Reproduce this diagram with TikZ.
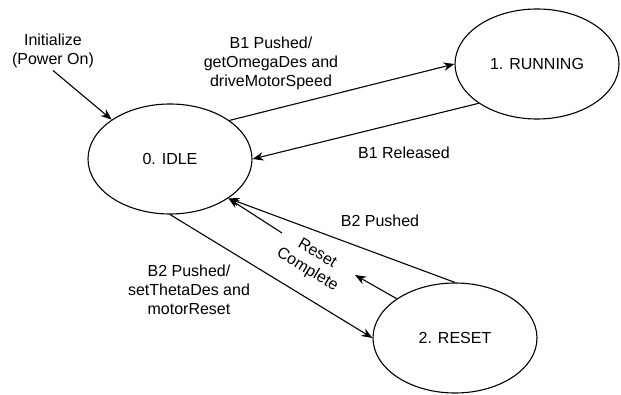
\documentclass[tikz,border=0pt]{standalone}
\usepackage{fontspec}
\setmainfont{Liberation Sans}
\usetikzlibrary{arrows.meta, shapes.geometric}
\tikzset{>={Stealth[length=11pt,width=8.5pt]}}
\tikzset{
  statenode/.style={draw, ellipse, minimum width=164pt, minimum height=110pt, inner sep=0pt},
  trans/.style={->},
  lbl/.style={align=center, inner sep=2pt}
}

\begin{document}
\begin{tikzpicture}[x=1pt, y=1pt, line width=1.1pt, font=\fontsize{16}{19}\selectfont]
\useasboundingbox (0,0) rectangle (621,394);
% states
\node[statenode] (idle) at (170,235) {0. IDLE};
\node[statenode] (running) at (537,330) {1. RUNNING};
\node[statenode] (reset) at (455,56) {2. RESET};
% labels
\node[lbl] (init) at (53,343) {Initialize\\(Power On)};
\node[lbl] (b1push) at (271,331) {B1 Pushed/\\getOmegaDes and\\driveMotorSpeed};
\node[lbl] (b1rel) at (404,241) {B1 Released};
\node[lbl] (b2back) at (380,173) {B2 Pushed};
\node[lbl] (b2push) at (189,104) {B2 Pushed/\\setThetaDes and\\motorReset};
\node[lbl, rotate=-31] (rcnote) at (312,132) {Reset\\Complete};
% transitions
\draw[trans] (init.south) -- (idle.146);
\draw[trans] (idle.33) -- (running.west);
\draw[trans] (running.214) -- (idle.east);
\draw[trans] (reset.north) -- (idle.-34);
\draw[trans] (idle.south) -- (reset.west);
% reset complete, split round its label
\coordinate (rcA) at (355,119);
\coordinate (rcB) at (282,161);
\draw[trans] (reset.146) -- (rcA);
\draw[trans] (rcB) -- (idle.-34);
\end{tikzpicture}
\end{document}
